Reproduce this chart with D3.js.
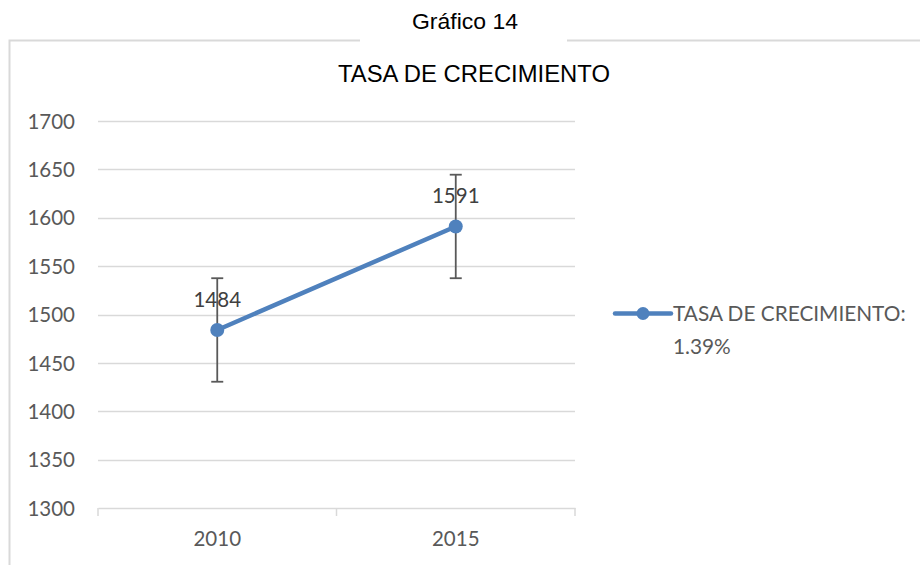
<!DOCTYPE html>
<meta charset="utf-8">
<style>
  body { margin: 0; background: #fff; }
  svg { display: block; }
  .axis text { font-family: Lato, "Noto Sans", sans-serif; fill: #595959; }
</style>
<svg width="920" height="565" id="chart"></svg>
<script src="https://cdn.jsdelivr.net/npm/d3@7"></script>
<script>
// valores
var years = ["2010", "2015"];
var values = [1484, 1591];
var errors = [53.5, 53.5];
var yTicks = [1300, 1350, 1400, 1450, 1500, 1550, 1600, 1650, 1700];
var seriesName = "TASA DE CRECIMIENTO:";
var seriesNote = "1.39%";

var svg = d3.select("#chart"),
    margin = {top: 121, left: 98, right: 345, bottom: 57},
    width = +svg.attr("width") - margin.left - margin.right,
    height = +svg.attr("height") - margin.top - margin.bottom;

var blue = "#4f81bd", grey = "#595959";

// marco con hueco para el titulo de arriba
svg.append("path")
    .attr("d", "M9.5,565 V40.5 H360 M567,40.5 H920")
    .attr("fill", "none")
    .attr("stroke", "#d9d9d9")
    .attr("stroke-width", 2);

svg.append("text")
    .attr("x", 465).attr("y", 29)
    .attr("text-anchor", "middle")
    .attr("textLength", 106)
    .attr("lengthAdjust", "spacingAndGlyphs")
    .style("font-family", "Liberation Sans, Arial, sans-serif")
    .style("font-size", "22px")
    .attr("fill", "#000")
    .text("Gráfico 14");

svg.append("text")
    .attr("x", 474).attr("y", 82)
    .attr("text-anchor", "middle")
    .attr("textLength", 272)
    .attr("lengthAdjust", "spacingAndGlyphs")
    .style("font-family", "Liberation Sans, Arial, sans-serif")
    .style("font-size", "23px")
    .attr("fill", "#000")
    .text("TASA DE CRECIMIENTO");

var x = d3.scaleBand().domain(years).range([0, width]);
var y = d3.scaleLinear().domain([1300, 1700]).range([height, 0]);

var g = svg.append("g")
    .attr("transform", "translate(" + margin.left + "," + margin.top + ")");

// lineas de cuadricula
g.append("g")
  .selectAll("line")
  .data(yTicks.slice(1))
  .join("line")
    .attr("x1", 0).attr("x2", width)
    .attr("y1", d => Math.round(y(d)) + 0.5)
    .attr("y2", d => Math.round(y(d)) + 0.5)
    .attr("stroke", "#d9d9d9")
    .attr("stroke-width", 1.5);

var yAxis = g.append("g")
    .attr("class", "axis")
    .call(d3.axisLeft(y).tickValues(yTicks).tickSize(0).tickPadding(23).tickFormat(d3.format("d")));
yAxis.select(".domain").remove();
yAxis.selectAll("text").style("font-size", "20.5px").attr("dy", "0.35em");

// eje x con marcas entre categorias
var xAxis = g.append("g")
    .attr("class", "axis")
    .attr("transform", "translate(0," + height + ")")
    .call(d3.axisBottom(x).tickSize(0).tickPadding(23));
xAxis.select(".domain").attr("stroke", "#d9d9d9").attr("stroke-width", 1.5);
xAxis.selectAll("text").style("font-size", "20.5px");

var bounds = [0].concat(years.map(d => x(d) + x.bandwidth()));
g.append("g").selectAll("line")
  .data(bounds)
  .join("line")
    .attr("x1", d => d).attr("x2", d => d)
    .attr("y1", height).attr("y2", height + 8)
    .attr("stroke", "#d9d9d9")
    .attr("stroke-width", 1.5);

var pts = years.map((d, i) => ({year: d, val: values[i], err: errors[i]}));
var cx = d => x(d.year) + x.bandwidth() / 2;

// barras de error
var eb = g.append("g").attr("stroke", grey).attr("stroke-width", 1.8);
eb.selectAll(".v").data(pts).join("line")
    .attr("x1", cx).attr("x2", cx)
    .attr("y1", d => y(d.val + d.err)).attr("y2", d => y(d.val - d.err));
eb.selectAll(".t").data(pts).join("line")
    .attr("x1", d => cx(d) - 6).attr("x2", d => cx(d) + 6)
    .attr("y1", d => y(d.val + d.err)).attr("y2", d => y(d.val + d.err));
eb.selectAll(".b").data(pts).join("line")
    .attr("x1", d => cx(d) - 6).attr("x2", d => cx(d) + 6)
    .attr("y1", d => y(d.val - d.err)).attr("y2", d => y(d.val - d.err));

g.append("path")
    .datum(pts)
    .attr("fill", "none")
    .attr("stroke", blue)
    .attr("stroke-width", 4.5)
    .attr("stroke-linecap", "round")
    .attr("d", d3.line().x(cx).y(d => y(d.val)));

g.selectAll(".dot").data(pts).join("circle")
    .attr("cx", cx).attr("cy", d => y(d.val))
    .attr("r", 7)
    .attr("fill", blue);

g.selectAll(".lbl").data(pts).join("text")
    .attr("x", cx).attr("y", d => y(d.val) - 23)
    .attr("text-anchor", "middle")
    .style("font-family", "Lato, 'Noto Sans', sans-serif")
    .style("font-size", "20.5px")
    .attr("fill", "#404040")
    .text(d => d.val);

// leyenda
var lg = svg.append("g").attr("transform", "translate(615," + (margin.top + y(1500) - 1) + ")");
lg.append("line").attr("x1", 0).attr("x2", 56).attr("y1", 0).attr("y2", 0)
    .attr("stroke", blue).attr("stroke-width", 4.5).attr("stroke-linecap", "round");
lg.append("circle").attr("cx", 28).attr("cy", 0).attr("r", 6.5).attr("fill", blue);
var lt = lg.append("text")
    .attr("x", 58).attr("y", 7)
    .style("font-family", "Lato, 'Noto Sans', sans-serif")
    .style("font-size", "20.8px")
    .attr("fill", "#595959");
lt.append("tspan").text(seriesName);
lt.append("tspan").attr("x", 58).attr("dy", 33).text(seriesNote);
</script>
